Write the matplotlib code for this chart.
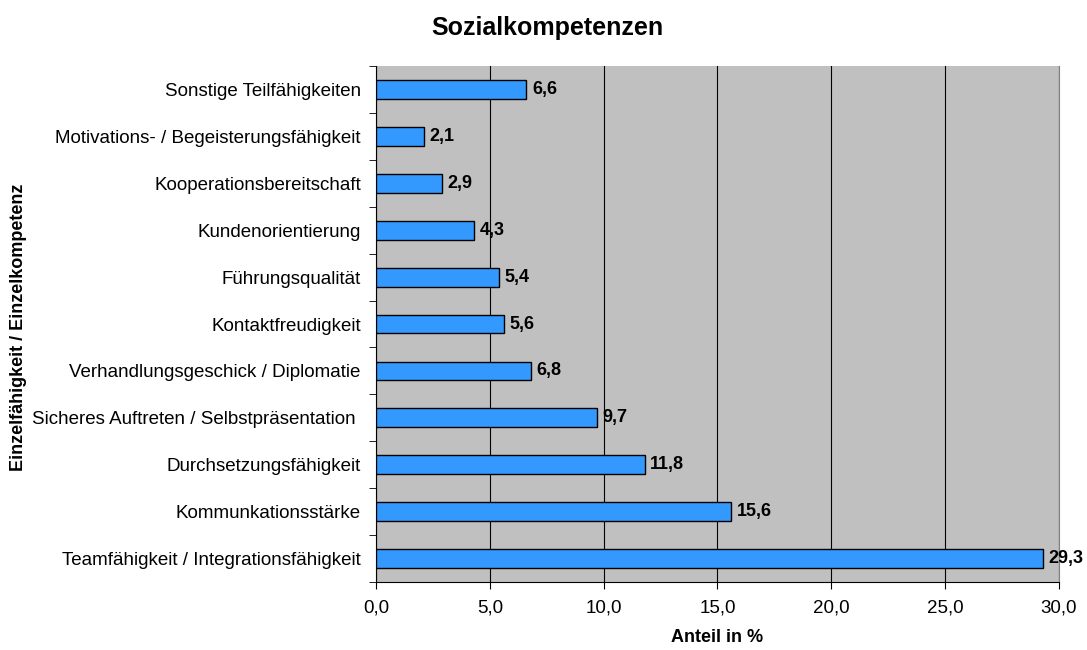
import matplotlib.pyplot as plt
import numpy as np

# Data (bottom to top)
categories = [
    'Teamfähigkeit / Integrationsfähigkeit',
    'Kommunkationsstärke',
    'Durchsetzungsfähigkeit',
    'Sicheres Auftreten / Selbstpräsentation ',
    'Verhandlungsgeschick / Diplomatie',
    'Kontaktfreudigkeit',
    'Führungsqualität',
    'Kundenorientierung',
    'Kooperationsbereitschaft',
    'Motivations- / Begeisterungsfähigkeit',
    'Sonstige Teilfähigkeiten',
]
values = [29.3, 15.6, 11.8, 9.7, 6.8, 5.6, 5.4, 4.3, 2.9, 2.1, 6.6]
xticks = [0, 5, 10, 15, 20, 25, 30]

plt.rcParams['font.family'] = ['Liberation Sans', 'DejaVu Sans']

fig = plt.figure(figsize=(10.87, 6.5), dpi=100)
ax = fig.add_axes([0.346, 0.105, 0.628, 0.793])
ax.set_facecolor('#C0C0C0')

y = np.arange(len(categories))
ax.barh(y, values, height=0.4, color='#3399FF', edgecolor='black', linewidth=1, zorder=3)

for yi, v in zip(y, values):
    ax.text(v + 0.25, yi, f'{v:.1f}'.replace('.', ','), va='center', ha='left',
            fontsize=13, fontweight='bold', zorder=4)

ax.set_xlim(0, 30)
ax.set_ylim(-0.5, len(categories) - 0.5)
ax.set_xticks(xticks)
ax.set_xticklabels([f'{t:.1f}'.replace('.', ',') for t in xticks], fontsize=13.5)
ax.set_yticks(y)
ax.set_yticklabels(categories, fontsize=13.5)
ax.tick_params(axis='y', length=0, pad=11)
ax.set_yticks(np.arange(-0.5, len(categories), 1), minor=True)
ax.tick_params(axis='y', which='minor', length=5, direction='out')
ax.tick_params(axis='x', length=5, direction='out', pad=8)

ax.grid(axis='x', color='black', linewidth=0.8, zorder=1)
ax.spines['top'].set_visible(False)
ax.spines['right'].set_color('#808080')
ax.spines['left'].set_color('black')
ax.spines['bottom'].set_color('black')

ax.set_xlabel('Anteil in %', fontsize=13, fontweight='bold', labelpad=9)
fig.text(0.017, 0.497, 'Einzelfähigkeit / Einzelkompetenz', rotation=90, va='center',
         ha='center', fontsize=13, fontweight='bold')
fig.text(0.504, 0.957, 'Sozialkompetenzen', ha='center', va='center', fontsize=18,
         fontweight='bold')

plt.savefig('out.png', dpi=100)
